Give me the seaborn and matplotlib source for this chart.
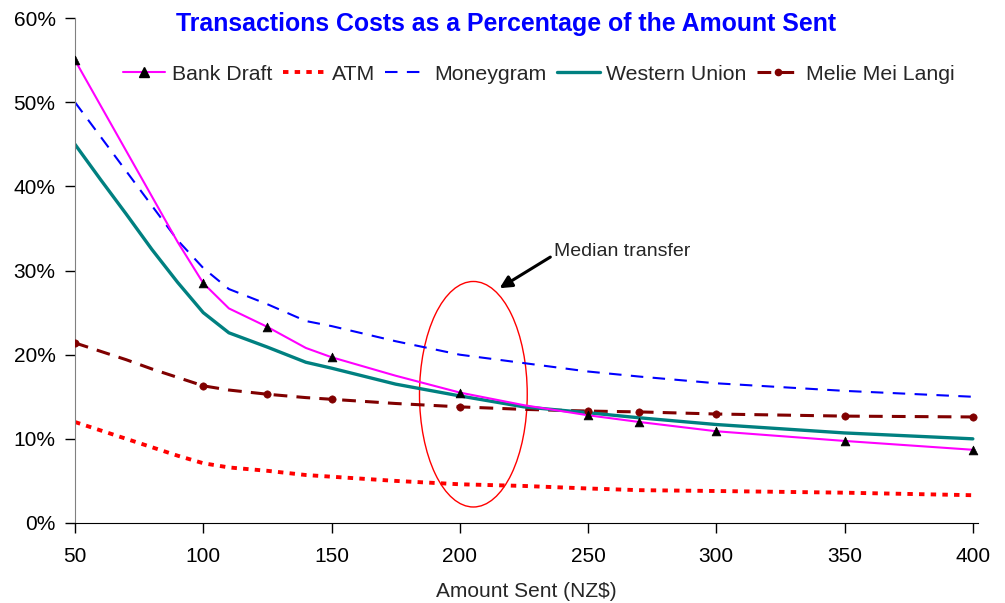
import numpy as np
import pandas as pd
import seaborn as sns
import matplotlib.pyplot as plt
from matplotlib.lines import Line2D
from matplotlib.patches import Ellipse

amounts = [50, 60, 70, 80, 90, 100, 110, 125, 140, 150, 175, 200, 225, 250, 270, 300, 350, 400]
bank_draft = [55.0, 49.6, 44.2, 38.8, 33.4, 28.5, 25.5, 23.3, 20.8, 19.7, 17.5, 15.5, 14.0, 12.8, 12.0, 10.9, 9.75, 8.7]
atm = [12.0, 11.0, 10.0, 9.0, 8.0, 7.1, 6.6, 6.2, 5.7, 5.5, 5.0, 4.6, 4.4, 4.1, 3.9, 3.8, 3.6, 3.3]
moneygram = [50.0, 45.9, 41.8, 37.7, 33.6, 30.3, 27.8, 26.0, 24.0, 23.4, 21.6, 20.0, 19.0, 18.0, 17.4, 16.6, 15.7, 15.0]
western_union = [45.0, 40.8, 36.7, 32.5, 28.6, 25.0, 22.6, 20.9, 19.1, 18.4, 16.5, 15.1, 13.8, 13.1, 12.5, 11.7, 10.7, 10.0]
melie = [21.4, 20.4, 19.4, 18.3, 17.3, 16.3, 15.8, 15.3, 14.9, 14.7, 14.2, 13.8, 13.5, 13.3, 13.2, 12.95, 12.7, 12.6]

# amounts where the original chart shows markers
marker_amounts = [50, 100, 125, 150, 200, 250, 270, 300, 350, 400]

df = pd.DataFrame({
    'amount': amounts,
    'Bank Draft': bank_draft,
    'ATM': atm,
    'Moneygram': moneygram,
    'Western Union': western_union,
    'Melie Mei Langi': melie,
})
marks = df[df['amount'].isin(marker_amounts)]

sns.set_style('white')
plt.rcParams['font.family'] = ['Liberation Sans', 'DejaVu Sans']

fig = plt.figure(figsize=(10.05, 6.03), dpi=100)
ax = fig.add_axes([0.0746, 0.1327, 0.8985, 0.8373])

sns.lineplot(x='amount', y='Moneygram', data=df, ax=ax, color='#0000FF', linewidth=1.5,
             linestyle=(0, (6, 4.5)))
sns.lineplot(x='amount', y='ATM', data=df, ax=ax, color='#FF0000', linewidth=2.8,
             linestyle=(0, (1.4, 1.6)))
sns.lineplot(x='amount', y='Melie Mei Langi', data=df, ax=ax, color='#800000', linewidth=2.2,
             linestyle=(0, (4.5, 3)))
sns.lineplot(x='amount', y='Western Union', data=df, ax=ax, color='#008080', linewidth=2.4)
sns.lineplot(x='amount', y='Bank Draft', data=df, ax=ax, color='#FF00FF', linewidth=1.5)

sns.scatterplot(x='amount', y='Melie Mei Langi', data=marks, ax=ax, color='#800000',
                marker='o', s=28, edgecolor='#800000', zorder=5)
sns.scatterplot(x='amount', y='Bank Draft', data=marks, ax=ax, color='black',
                marker='^', s=40, edgecolor='black', zorder=5)

ax.set_xlim(50, 402)
ax.set_ylim(0, 60)
ax.set_xticks(range(50, 401, 50))
ax.set_yticks(range(0, 61, 10))
ax.set_yticklabels([f'{v}%' for v in range(0, 61, 10)])
ax.tick_params(axis='both', labelsize=15, direction='out', length=7, width=1,
               colors='black', bottom=True, left=True)
ax.tick_params(axis='x', pad=10)
ax.tick_params(axis='y', pad=7)
ax.set_xlabel('Amount Sent (NZ$)', fontsize=15, labelpad=12)
ax.set_ylabel('')
sns.despine(ax=ax)
ax.spines['left'].set_color('#808080')
ax.spines['bottom'].set_color('black')

ax.add_patch(Ellipse((205.3, 15.3), 42, 26.8, fill=False, edgecolor='red', linewidth=1))
ax.annotate('', xy=(215.5, 27.9), xytext=(235.3, 31.6),
            arrowprops=dict(arrowstyle='-|>', color='black', lw=2.2, mutation_scale=18,
                            shrinkA=0, shrinkB=0))
ax.text(236.9, 32.3, 'Median transfer', fontsize=14, ha='left', va='center')

fig.text(0.504, 0.960, 'Transactions Costs as a Percentage of the Amount Sent',
         color='#0000FF', fontsize=17.9, fontweight='bold', ha='center', va='center')

handles = [
    Line2D([], [], color='#FF00FF', lw=1.5, marker='^', markersize=6.5,
           markerfacecolor='black', markeredgecolor='black'),
    Line2D([], [], color='#FF0000', lw=2.8, linestyle=(0, (1.4, 1.6))),
    Line2D([], [], color='#0000FF', lw=1.5, linestyle=(0, (6, 4.5))),
    Line2D([], [], color='#008080', lw=2.4),
    Line2D([], [], color='#800000', lw=2.2, linestyle=(0, (4.5, 3)), marker='o',
           markersize=4.5),
]
labels = ['Bank Draft', 'ATM', 'Moneygram', 'Western Union', 'Melie Mei Langi']
fig.legend(handles, labels, loc='center', bbox_to_anchor=(0.536, 0.877), ncol=5,
           frameon=False, fontsize=15.3, handlelength=2.0, handletextpad=0.3,
           columnspacing=0.5)

fig.savefig('out.png', dpi=100)
